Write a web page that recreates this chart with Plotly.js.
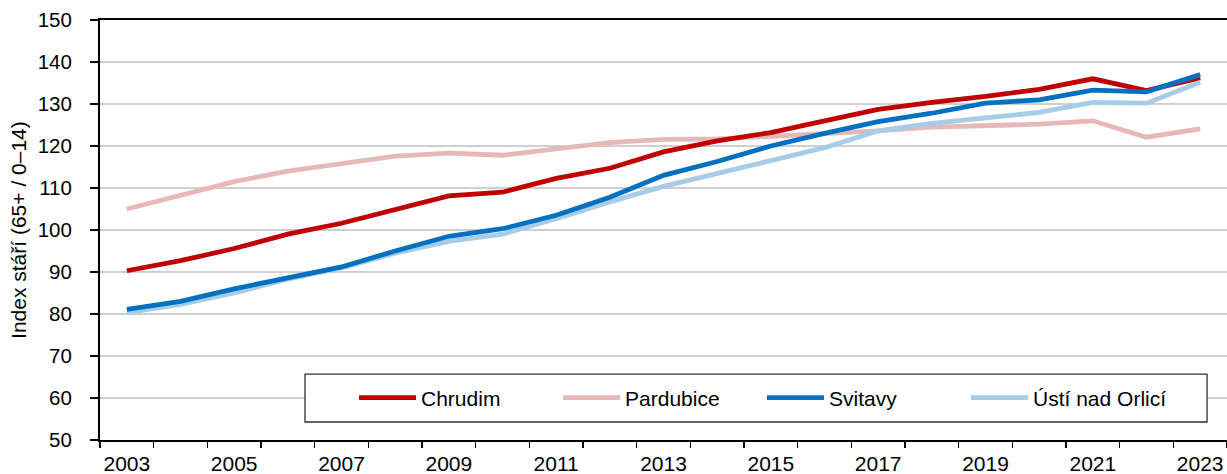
<!DOCTYPE html>
<html>
<head>
<meta charset="utf-8">
<script src="https://cdn.plot.ly/plotly-3.0.1.min.js"></script>
<style>
html,body{margin:0;padding:0;background:#fff;}
#chart{width:1227px;height:474px;}
</style>
</head>
<body>
<div id="chart"></div>
<script>
const years = [2003,2004,2005,2006,2007,2008,2009,2010,2011,2012,2013,2014,2015,2016,2017,2018,2019,2020,2021,2022,2023];
const tickYears = [2003,2005,2007,2009,2011,2013,2015,2017,2019,2021,2023];
const tickLabels = ["2003","2005","2007","2009","2011","2013","2015","2017","2019","2021","2023"];

const chrudim   = [90.3,92.7,95.6,99.0,101.6,104.8,108.1,109.0,112.3,114.7,118.6,121.2,123.2,126.0,128.7,130.4,131.8,133.5,136.0,133.2,136.2];
const pardubice = [105.0,108.3,111.5,114.0,115.8,117.6,118.3,117.8,119.3,120.8,121.6,121.7,122.3,122.9,123.6,124.5,124.9,125.2,126.0,122.1,124.1];
const svitavy   = [81.1,83.0,86.0,88.7,91.2,95.0,98.5,100.3,103.5,107.8,113.0,116.3,120.0,123.0,125.8,127.8,130.2,131.0,133.3,132.9,137.0];
const usti      = [80.3,82.3,85.0,88.3,91.0,94.5,97.3,99.0,102.7,106.7,110.4,113.5,116.7,119.6,123.6,125.4,126.7,128.0,130.4,130.2,135.2];

const names = ["Chrudim","Pardubice","Svitavy","Ústí nad Orlicí"];
const colors = ["#C00000","#E6B9B8","#0070C0","#A6CCE8"];
const yTitle = "Index stáří (65+ / 0–14)";

const series = [chrudim, pardubice, svitavy, usti];
const drawOrder = [1,0,3,2];
const traces = drawOrder.map(i => ({
  type:'scatter', mode:'lines', x: years, y: series[i], name: names[i],
  legendrank: i+1,
  line:{color: colors[i], width:4.8}
}));

const FONT = "Liberation Sans, Arial, sans-serif";
const layout = {
  width:1227, height:474,
  margin:{l:100, r:0, t:20, b:34},
  paper_bgcolor:'#fff', plot_bgcolor:'#fff',
  font:{family:FONT, size:20, color:'#000'},
  showlegend:true,
  legend:{orientation:'h', x:0.2254, xanchor:'left', y:0.1, yanchor:'middle',
          bgcolor:'rgba(0,0,0,0)', borderwidth:0, font:{family:FONT, size:21, color:'#000'},
          entrywidth:132, entrywidthmode:'pixels', itemwidth:57, traceorder:'normal'},
  xaxis:{
    range:[2002.5, 2023.5], tickmode:'array', tickvals: tickYears, ticktext: tickLabels,
    ticks:'', showgrid:false, zeroline:false,
    showline:true, linecolor:'#000', linewidth:2, mirror:true,
    ticklabelstandoff:4,
    minor:{tick0:2002.5, dtick:1, ticks:'outside', ticklen:6, tickwidth:1.5, tickcolor:'#000', showgrid:false},
    tickfont:{family:FONT, size:21}
  },
  yaxis:{
    range:[50,150], dtick:10, tick0:50, ticks:'outside', ticklen:8, tickwidth:1.5, tickcolor:'#000',
    showline:true, linecolor:'#000', linewidth:2,
    showgrid:true, gridcolor:'#CFCFCF', gridwidth:1.3, zeroline:false,
    ticklabelstandoff:14,
    tickfont:{family:FONT, size:20.5}
  },
  shapes:[{type:'rect', xref:'paper', yref:'paper', x0:0.1819, x1:0.9823, y0:0.0429, y1:0.157,
           line:{color:'#303030', width:1.3}, fillcolor:'#fff', layer:'above'}],
  annotations:[{text:yTitle, xref:'paper', yref:'paper', x:-0.0728, y:0.5, textangle:-90,
                xanchor:'center', yanchor:'middle', showarrow:false, font:{family:FONT, size:21, color:'#000'}}]
};

Plotly.newPlot('chart', traces, layout, {staticPlot:true, displayModeBar:false});
</script>
</body>
</html>
